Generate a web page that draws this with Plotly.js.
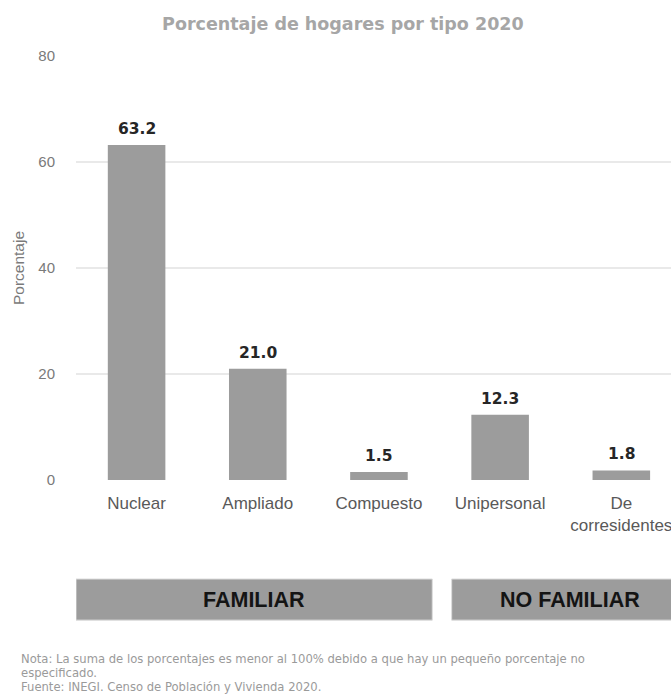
<!DOCTYPE html>
<html>
<head>
<meta charset="utf-8">
<script src="https://cdn.plot.ly/plotly-3.0.1.min.js"></script>
<style>html,body{margin:0;padding:0;background:#fff;}#chart{width:671px;height:698px;}</style>
</head>
<body>
<div id="chart"></div>
<script>
var categories = ["Nuclear", "Ampliado", "Compuesto", "Unipersonal", "De<br>corresidentes"];
var values = [63.2, 21.0, 1.5, 12.3, 1.8];
var valueLabels = ["63.2", "21.0", "1.5", "12.3", "1.8"];
var yTicks = [0, 20, 40, 60, 80];
var groups = ["FAMILIAR", "NO FAMILIAR"];
var groupStart = [-0.5, 2.6];
var groupEnd = [2.44, 4.55];
var titleText = "Porcentaje de hogares por tipo 2020";
var noteLines = [
  "Nota: La suma de los porcentajes es menor al 100% debido a que hay un pequeño porcentaje no",
  "especificado.",
  "Fuente: INEGI. Censo de Población y Vivienda 2020."
];

var xIdx = categories.map(function(_, i){ return i; });

var trace = {
  type: "bar",
  x: xIdx,
  y: values,
  marker: {color: "#9c9c9c"},
  hoverinfo: "skip"
};

var annotations = values.map(function(v, i){
  return {
    x: i, y: v, xref: "x", yref: "y",
    text: valueLabels[i], showarrow: false,
    yanchor: "bottom", yshift: 5,
    font: {family: "DejaVu Sans", size: 15.5, color: "#262626", weight: "bold"}
  };
});

var shapes = [];
groups.forEach(function(g, i){
  shapes.push({
    type: "rect", xref: "x", yref: "paper",
    x0: groupStart[i], x1: groupEnd[i], y0: -0.3305, y1: -0.2335,
    fillcolor: "#9c9c9c", line: {color: "#dcdcdc", width: 1}, layer: "above"
  });
  annotations.push({
    x: (groupStart[i] + groupEnd[i]) / 2, y: -0.282,
    xref: "x", yref: "paper", showarrow: false,
    text: "<b>" + g + "</b>",
    font: {family: "Liberation Sans", size: 21.5, color: "#141414"},
    yanchor: "middle"
  });
});

// note lines, placed by pixel rows converted to paper coords (plot area 56..480 px)
var noteRows = [659, 673, 687];
noteLines.forEach(function(t, i){
  annotations.push({
    xref: "paper", yref: "paper",
    x: (19 - 76) / 595, y: (480 - noteRows[i]) / 424,
    xanchor: "left", yanchor: "middle", align: "left",
    showarrow: false, text: t,
    font: {family: "DejaVu Sans", size: 11.6, color: "#9a9a9a"}
  });
});

var layout = {
  width: 671, height: 698,
  margin: {l: 76, r: 0, t: 56, b: 218},
  paper_bgcolor: "#ffffff",
  plot_bgcolor: "#ffffff",
  showlegend: false,
  bargap: 0.525,
  title: {
    text: titleText,
    font: {family: "DejaVu Sans", size: 17.5, color: "#a6a6a6", weight: "bold"},
    x: 0.511, xanchor: "center", y: 0.966, yanchor: "middle"
  },
  xaxis: {
    range: [-0.5, 4.41],
    tickvals: xIdx, ticktext: categories,
    tickfont: {family: "Liberation Sans", size: 17, color: "#595959"},
    showgrid: false, zeroline: false, showline: false,
    ticks: "", ticklabelstandoff: 11, ticklabeloverflow: "allow", fixedrange: true
  },
  yaxis: {
    range: [0, 80],
    tickvals: yTicks,
    tickfont: {family: "Liberation Sans", size: 15, color: "#7a7a7a"},
    showgrid: true, gridcolor: "#e9e9e9", gridwidth: 1.5,
    zeroline: false, showline: false, ticks: "",
    ticklabelstandoff: 20,
    title: {text: "Porcentaje", font: {family: "Liberation Sans", size: 15.5, color: "#7a7a7a"}, standoff: 9},
    fixedrange: true
  },
  shapes: shapes,
  annotations: annotations
};

Plotly.newPlot("chart", [trace], layout, {displayModeBar: false, staticPlot: true});
</script>
</body>
</html>
